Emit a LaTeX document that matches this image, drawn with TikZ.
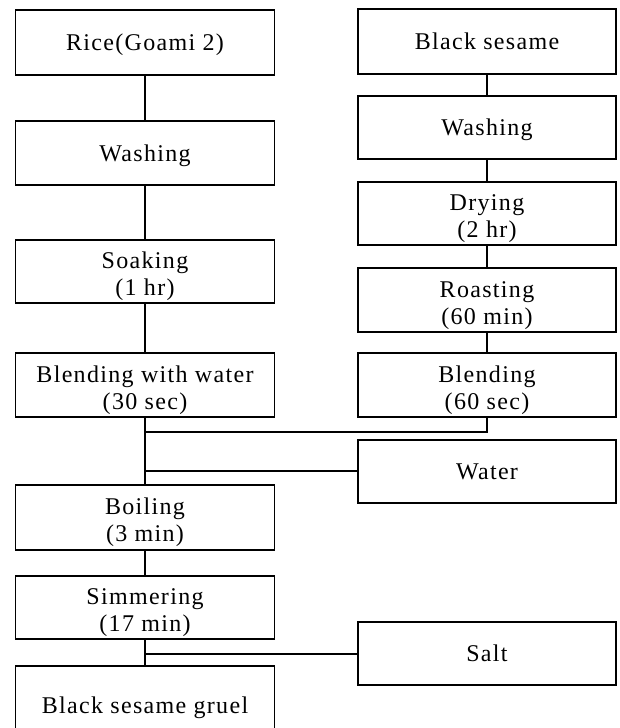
\documentclass[tikz,border=0pt]{standalone}
\usepackage{fontspec}
\setmainfont{Liberation Serif}[LetterSpace=5.5]
\begin{document}
\begin{tikzpicture}[x=1pt,y=-1pt,
  box/.style={draw, line width=1.3pt, rectangle, inner sep=0pt, align=center,
    font=\fontsize{24}{27}\selectfont},
  one/.style={text height=16pt, text depth=0pt},
  two/.style={text height=48pt, text depth=0pt},
  lbox/.style={box, minimum width=259pt},
  rbox/.style={box, minimum width=258pt},
  conn/.style={line width=1.3pt}]
\useasboundingbox (0,0) rectangle (619,728);
% left column
\node[lbox, one, minimum height=65pt] (rice) at (145,42.5) {Rice(Goami 2)};
\node[lbox, one, minimum height=64pt] (washL) at (145,153) {Washing};
\node[lbox, two, minimum height=63pt] (soak) at (145,271.5) {Soaking\\(1 hr)};
\node[lbox, two, minimum height=64pt] (blendW) at (145,385) {Blending with water\\(30 sec)};
\node[lbox, two, minimum height=65pt] (boil) at (145,517.5) {Boiling\\(3 min)};
\node[lbox, two, minimum height=63pt] (simmer) at (145,607.5) {Simmering\\(17 min)};
\node[lbox, one, minimum height=78pt] (gruel) at (145,705) {Black sesame gruel};
% right column
\node[rbox, one, minimum height=65pt] (sesame) at (487,41.5) {Black sesame};
\node[rbox, one, minimum height=63pt] (washR) at (487,127.5) {Washing};
\node[rbox, two, minimum height=63pt] (dry) at (487,213.5) {Drying\\(2 hr)};
\node[rbox, two, minimum height=64pt] (roast) at (487,300) {Roasting\\(60 min)};
\node[rbox, two, minimum height=64pt] (blend) at (487,385) {Blending\\(60 sec)};
\node[rbox, one, minimum height=63pt] (water) at (487,471.5) {Water};
\node[rbox, one, minimum height=63pt] (salt) at (487,653.5) {Salt};
% junctions
\coordinate (j1) at (145,432);
\coordinate (j2) at (145,471);
\coordinate (j3) at (145,654);
% connectors
\draw[conn] (rice) -- (washL);
\draw[conn] (washL) -- (soak);
\draw[conn] (soak) -- (blendW);
\draw[conn] (blendW) -- (boil);
\draw[conn] (boil) -- (simmer);
\draw[conn] (simmer) -- (gruel);
\draw[conn] (sesame) -- (washR);
\draw[conn] (washR) -- (dry);
\draw[conn] (dry) -- (roast);
\draw[conn] (roast) -- (blend);
\draw[conn] (blend.south) |- (j1);
\draw[conn] (water.west |- j2) -- (j2);
\draw[conn] (salt.west |- j3) -- (j3);
\end{tikzpicture}
\end{document}
